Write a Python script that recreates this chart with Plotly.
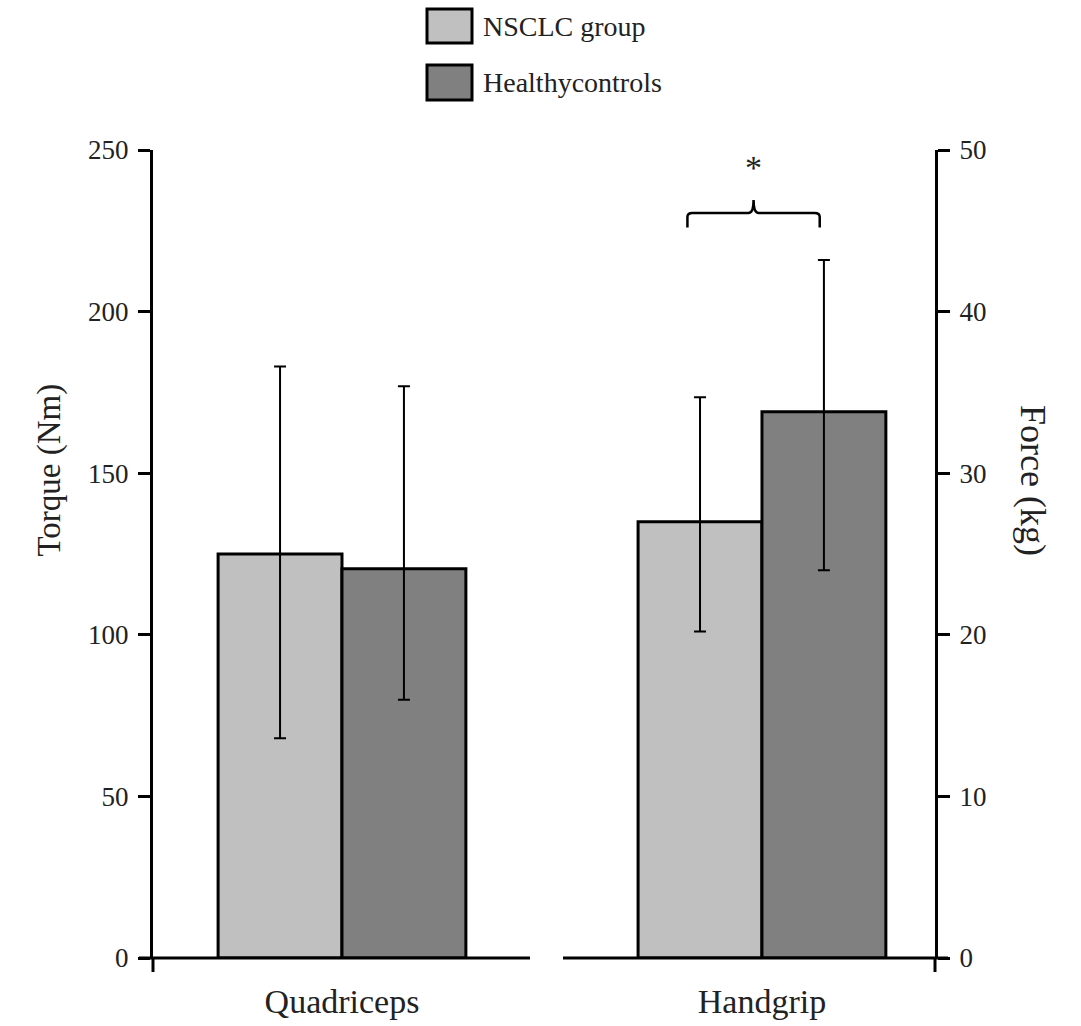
import plotly.graph_objects as go

# ---- data ----
groups = ["NSCLC group", "Healthycontrols"]
quad_mean = [125.0, 120.4]          # Torque (Nm)
quad_err_plus = [58.0, 56.5]
quad_err_minus = [57.0, 40.5]
grip_mean = [27.0, 33.8]            # Force (kg)
grip_err_plus = [7.7, 9.4]
grip_err_minus = [6.8, 9.8]
categories = ["Quadriceps", "Handgrip"]
left_ticks = [0, 50, 100, 150, 200, 250]
right_ticks = [0, 10, 20, 30, 40, 50]
colors = ["#c0c0c0", "#808080"]

FONT = "Liberation Serif, Times New Roman, serif"
W, H = 1081, 1026
L, R, T, B = 153, 935, 150, 958   # plot area in px


def px(x):
    return (x - L) / (R - L)


def py(y):
    return (B - y) / (B - T)


fig = go.Figure()
for i, g in enumerate(groups):
    fig.add_trace(go.Bar(
        x=[categories[0]], y=[quad_mean[i]], name=g, offsetgroup=str(i),
        marker=dict(color=colors[i], line=dict(color="black", width=3)),
        error_y=dict(type="data", array=[quad_err_plus[i]], arrayminus=[quad_err_minus[i]],
                     color="black", thickness=2, width=6),
        yaxis="y", showlegend=False))
    fig.add_trace(go.Bar(
        x=[categories[1]], y=[grip_mean[i]], name=g, offsetgroup=str(i),
        marker=dict(color=colors[i], line=dict(color="black", width=3)),
        error_y=dict(type="data", array=[grip_err_plus[i]], arrayminus=[grip_err_minus[i]],
                     color="black", thickness=2, width=6),
        yaxis="y2", showlegend=False))

axis_common = dict(showgrid=False, zeroline=False, showline=True, linecolor="black",
                   linewidth=3, ticks="outside", ticklen=12, tickwidth=3, tickcolor="black",
                   tickfont=dict(family=FONT, size=27, color="#222"), ticklabelstandoff=4,
                   automargin=False)

shapes = []
# broken baseline
shapes.append(dict(type="line", xref="paper", yref="paper", x0=px(139), x1=px(530), y0=0, y1=0,
                   line=dict(color="black", width=3)))
shapes.append(dict(type="line", xref="paper", yref="paper", x0=px(563), x1=px(948), y0=0, y1=0,
                   line=dict(color="black", width=3)))
# axis extensions below zero
for xx in (0, 1):
    shapes.append(dict(type="line", xref="paper", yref="paper", x0=xx, x1=xx, y0=0, y1=py(972),
                       line=dict(color="black", width=3)))
# legend boxes
legend_rows = [(9, 43), (65, 100)]
annotations = []
for i, (t0, t1) in enumerate(legend_rows):
    shapes.append(dict(type="rect", xref="paper", yref="paper", x0=px(427), x1=px(472),
                       y0=py(t1), y1=py(t0), fillcolor=colors[i],
                       line=dict(color="black", width=3)))
    annotations.append(dict(text=groups[i], xref="paper", yref="paper", x=px(481),
                            y=py((t0 + t1) / 2), xanchor="left", yanchor="middle", showarrow=False,
                            font=dict(family=FONT, size=28, color="#222")))

# significance bracket over Handgrip (x in category units, y on right axis)
bw = (1 - 0.41) / 2
xl, xr = 1 - bw / 2 - 0.03, 1 + bw / 2 - 0.01
xc = (xl + xr) / 2
yb, yl, ypk = 46.1, 45.2, 46.9
r = 0.012
path = (f"M {xl},{yl} L {xl},{yb-0.25} Q {xl},{yb} {xl+r},{yb} L {xc-r},{yb} "
        f"Q {xc},{yb} {xc},{ypk} Q {xc},{yb} {xc+r},{yb} L {xr-r},{yb} "
        f"Q {xr},{yb} {xr},{yb-0.25} L {xr},{yl}")
shapes.append(dict(type="path", xref="x", yref="y2", path=path, line=dict(color="black", width=2.5)))
annotations.append(dict(text="*", xref="x", yref="y2", x=xc, y=48.9, showarrow=False,
                        font=dict(family=FONT, size=34, color="#222")))

# axis titles
annotations.append(dict(text="Torque (Nm)", xref="paper", yref="paper", x=px(28), y=py(470),
                        textangle=-90, showarrow=False, font=dict(family=FONT, size=33, color="#222")))
annotations.append(dict(text="Force (kg)", xref="paper", yref="paper", x=px(1055), y=py(480),
                        textangle=90, showarrow=False, font=dict(family=FONT, size=36, color="#222")))

fig.update_layout(
    width=W, height=H, margin=dict(l=L, r=W - R, t=T, b=H - B, autoexpand=False),
    paper_bgcolor="white", plot_bgcolor="white",
    barmode="group", bargap=0.41, bargroupgap=0,
    xaxis=dict(type="category", categoryorder="array", categoryarray=categories,
               range=[-0.45, 1.412], showgrid=False, zeroline=False, showline=False, ticks="",
               tickfont=dict(family=FONT, size=34, color="#222"), ticklabelstandoff=20,
               automargin=False),
    yaxis=dict(range=[0, 250], tickvals=left_ticks, **axis_common),
    yaxis2=dict(range=[0, 50], tickvals=right_ticks, overlaying="y", side="right", **axis_common),
    shapes=shapes, annotations=annotations, showlegend=False,
)

fig.write_html("out.html", config={"displayModeBar": False},
               post_script="document.body.style.margin='0px';document.body.style.overflow='hidden';")
